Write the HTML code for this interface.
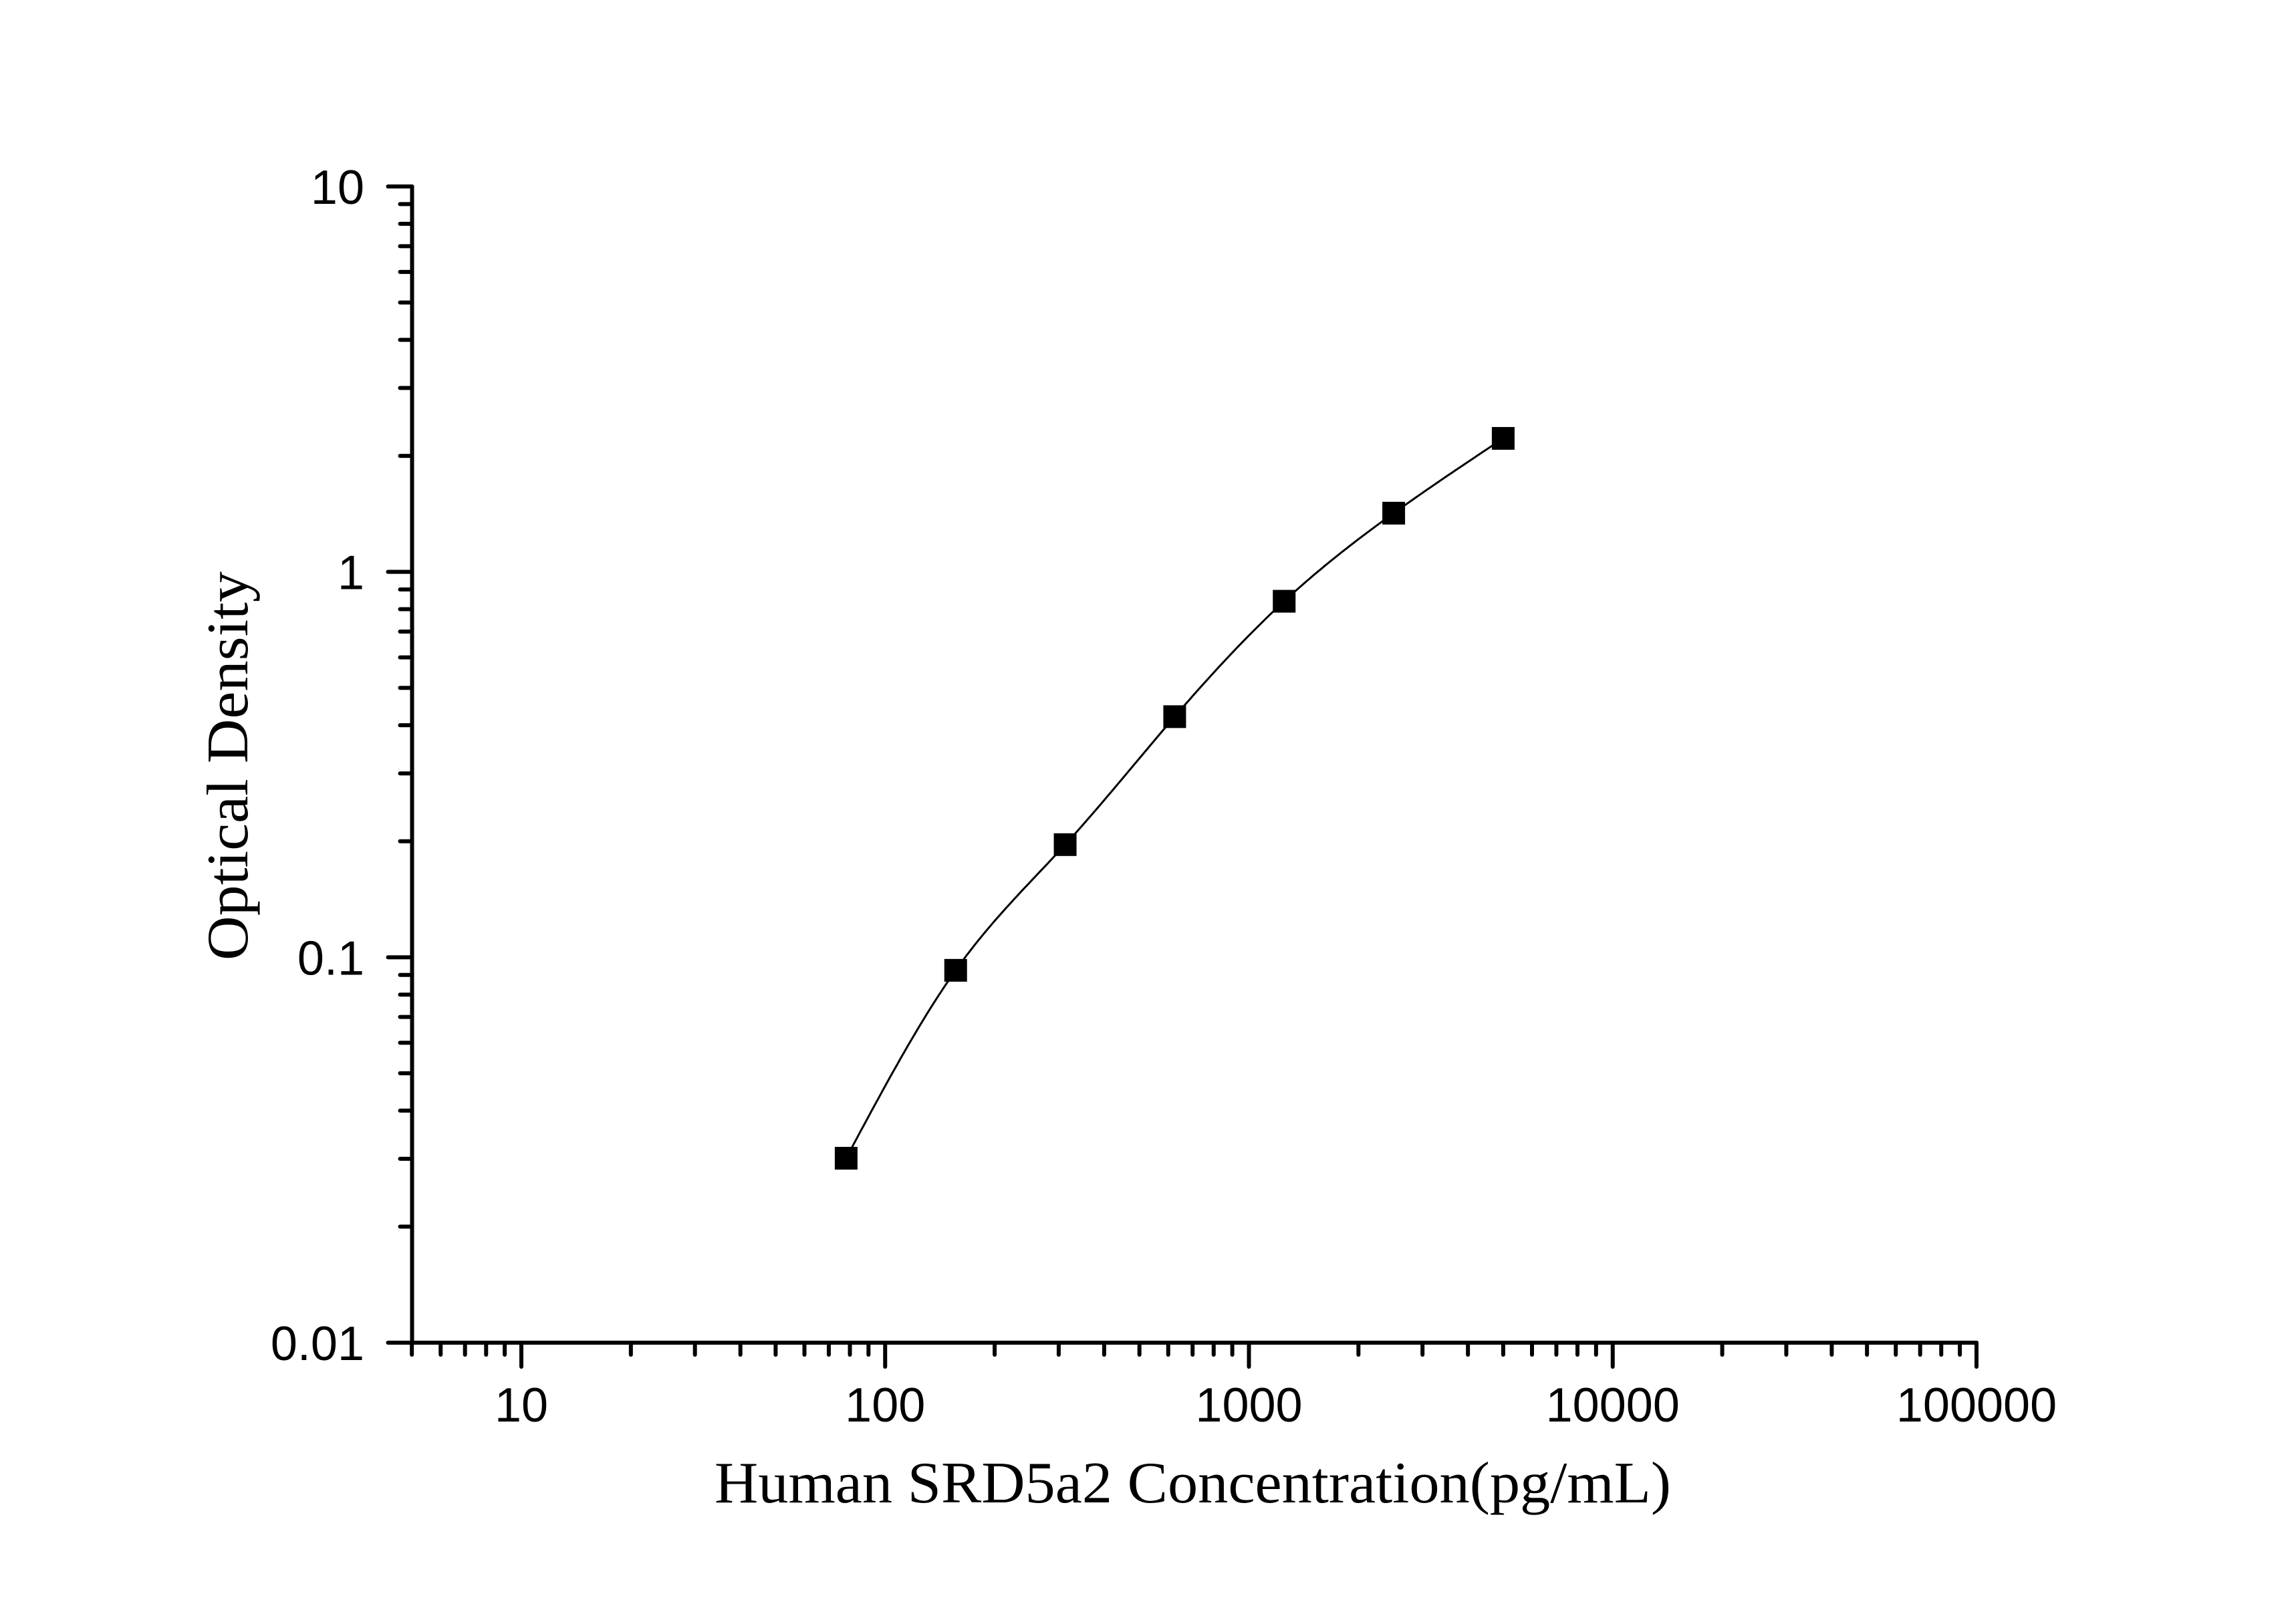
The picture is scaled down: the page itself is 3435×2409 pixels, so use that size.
<!DOCTYPE html>
<html><head><meta charset="utf-8"><style>html,body{margin:0;padding:0;background:#fff}svg{display:block}</style></head>
<body>
<svg id="chart" width="3435" height="2409" viewBox="0 0 3435 2409" xmlns="http://www.w3.org/2000/svg">
<rect width="3435" height="2409" fill="#fff"/>
<g id="axes"></g>
<g id="series"></g>
<text x="1069" y="2248" textLength="1431" lengthAdjust="spacingAndGlyphs" font-family="Liberation Serif, serif" font-size="88">Human SRD5a2 Concentration(pg/mL)</text>
<text transform="translate(370,1437) rotate(-90)" x="0" y="0" textLength="582" lengthAdjust="spacingAndGlyphs" font-family="Liberation Serif, serif" font-size="88">Optical Density</text>
</svg>
<script>
const concentrations = [78.125, 156.25, 312.5, 625, 1250, 2500, 5000];
const odValues = [0.0301, 0.0925, 0.196, 0.421, 0.839, 1.42, 2.22];
const xTickValues = [10, 100, 1000, 10000, 100000];
const xTickLabels = ["10", "100", "1000", "10000", "100000"];
const yTickValues = [0.01, 0.1, 1, 10];
const yTickLabels = ["0.01", "0.1", "1", "10"];

const NS = "http://www.w3.org/2000/svg";
const X0 = 780, XDEC = 544.25, AXL = 616.5, AXR = 2957;
const YB = 2009, AXT = 279, YDEC = (YB - AXT) / 3;
function xs(v){ return X0 + (Math.log10(v) - 1) * XDEC; }
function ys(v){ return YB - (Math.log10(v) + 2) * YDEC; }
function mk(tag, attrs, parent){ const e = document.createElementNS(NS, tag); for (const k in attrs) e.setAttribute(k, attrs[k]); parent.appendChild(e); return e; }

const axes = document.getElementById('axes');
const st = {stroke:'#000','stroke-width':6,'stroke-linecap':'round'};
let l = mk('line', Object.assign({x1:AXL, y1:YB, x2:AXR, y2:YB}, st), axes);


l = mk('line', Object.assign({x1:AXL, y1:YB, x2:AXL, y2:AXT}, st), axes);



for (let d = 0; d <= 5; d++) {
  for (let m = 1; m <= 9; m++) {
    const v = m * Math.pow(10, d);
    if (v < 5 || v > 100000) continue;
    const x = xs(v);
    const major = m === 1;
    const t = mk('line', Object.assign({x1:x, y1:YB, x2:x, y2:YB + (major ? 36 : 18)}, st), axes);
    
    
  }
}
xTickValues.forEach((v, i) => {
  const t = mk('text', {x:xs(v), y:2127, 'text-anchor':'middle', 'font-family':'Liberation Sans, Arial, sans-serif', 'font-size':72}, axes);
  t.textContent = xTickLabels[i];
  
  
});
for (let d = -2; d <= 1; d++) {
  for (let m = 1; m <= 9; m++) {
    const v = m * Math.pow(10, d);
    if (v > 10.0001) continue;
    const y = ys(v);
    const major = m === 1;
    const t = mk('line', Object.assign({x1:AXL, y1:y, x2:AXL - (major ? 36 : 18), y2:y}, st), axes);
    
    
  }
}
yTickValues.forEach((v, i) => {
  const t = mk('text', {x:545, y:ys(v) + 26, 'text-anchor':'end', 'font-family':'Liberation Sans, Arial, sans-serif', 'font-size':72}, axes);
  t.textContent = yTickLabels[i];
  
  
});

// natural cubic spline in log-log space
const series = document.getElementById('series');
const lx = concentrations.map(Math.log10), ly = odValues.map(Math.log10);
const n = lx.length;
const h = [], al = [0], lo = [1], mu = [0], z = [0], c = new Array(n).fill(0), b = [], dd = [];
for (let i = 0; i < n - 1; i++) h.push(lx[i + 1] - lx[i]);
for (let i = 1; i < n - 1; i++) al[i] = 3 / h[i] * (ly[i + 1] - ly[i]) - 3 / h[i - 1] * (ly[i] - ly[i - 1]);
for (let i = 1; i < n - 1; i++) { lo[i] = 2 * (lx[i + 1] - lx[i - 1]) - h[i - 1] * mu[i - 1]; mu[i] = h[i] / lo[i]; z[i] = (al[i] - h[i - 1] * z[i - 1]) / lo[i]; }
for (let j = n - 2; j >= 0; j--) { c[j] = z[j] - mu[j] * c[j + 1]; b[j] = (ly[j + 1] - ly[j]) / h[j] - h[j] * (c[j + 1] + 2 * c[j]) / 3; dd[j] = (c[j + 1] - c[j]) / (3 * h[j]); }
let d = '';
for (let j = 0; j < n - 1; j++) {
  for (let k = 0; k <= 30; k++) {
    const t = h[j] * k / 30;
    const yv = ly[j] + b[j] * t + c[j] * t * t + dd[j] * t * t * t;
    const px = xs(Math.pow(10, lx[j] + t)), py = ys(Math.pow(10, yv));
    d += (d ? ' L' : 'M') + px.toFixed(1) + ',' + py.toFixed(1);
  }
}
const path = mk('path', {d:d, fill:'none', stroke:'#000', 'stroke-width':3}, series);


concentrations.forEach((cv, i) => {
  const r = mk('rect', {x:xs(cv) - 17, y:ys(odValues[i]) - 17, width:34, height:34, fill:'#000'}, series);
  
  
});
</script>
</body></html>
